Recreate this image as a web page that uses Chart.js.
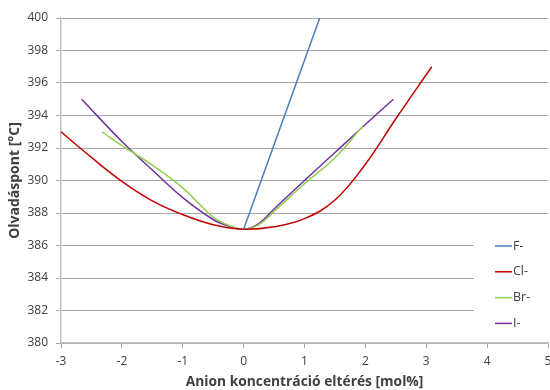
<!DOCTYPE html>
<html>
<head>
<meta charset="utf-8">
<script src="https://cdn.jsdelivr.net/npm/chart.js@4.4.1/dist/chart.umd.min.js"></script>
<style>
  html, body { margin: 0; padding: 0; background: #fff; }
  #wrap { width: 550px; height: 390px; }
</style>
</head>
<body>
<div id="wrap"><canvas id="chart"></canvas></div>
<script>
// anion concentration deviation [mol%] and melting point [°C]
const xF = [0, 0.5, 1, 1.5];
const yF = [387, 392.2, 397.4, 402.6];

const xCl = [-3, -2.5, -2, -1.5, -1, -0.5, 0, 0.5, 1, 1.5, 2, 2.5, 3.09];
const yCl = [393, 391.42, 389.95, 388.75, 387.9, 387.28, 387, 387.15, 387.65, 388.8, 391.0, 393.8, 397];

const xBr = [-2.33, -2, -1.5, -1, -0.5, -0.25, 0, 0.25, 0.5, 1, 1.5, 1.96];
const yBr = [393, 392.15, 390.95, 389.55, 387.75, 387.25, 387, 387.28, 388.1, 389.8, 391.4, 393.35];

const xI = [-2.66, -2, -1.5, -1, -0.5, -0.25, 0, 0.25, 0.5, 1, 1.5, 2, 2.46];
const yI = [395, 392.4, 390.65, 388.95, 387.6, 387.2, 387, 387.35, 388.25, 390.0, 391.72, 393.45, 395];

const seriesNames = ['F-', 'Cl-', 'Br-', 'I-'];
const seriesColors = ['#4a7ebb', '#c00000', '#92d050', '#7030a0'];

function toPoints(xs, ys) {
  return xs.map((x, i) => ({ x: x, y: ys[i] }));
}

Chart.defaults.font.family = "'Open Sans', sans-serif";
Chart.defaults.font.size = 12;
Chart.defaults.color = '#404040';

// legend sits inside the plot area on a white box, like the original
const boxLegend = {
  id: 'boxLegend',
  afterDatasetsDraw(chart) {
    const ctx = chart.ctx;
    ctx.save();
    ctx.fillStyle = '#ffffff';
    ctx.fillRect(474, 224, 76, 114);
    ctx.font = "12.5px 'Open Sans', sans-serif";
    ctx.textBaseline = 'middle';
    ctx.fillStyle = '#404040';
    chart.data.datasets.forEach((ds, i) => {
      const y = 246 + i * 25.8;
      ctx.strokeStyle = ds.borderColor;
      ctx.lineWidth = 1.5;
      ctx.beginPath();
      ctx.moveTo(495, y);
      ctx.lineTo(512, y);
      ctx.stroke();
      ctx.fillText(ds.label, 513, y);
    });
    ctx.restore();
  }
};

const ctx = document.getElementById('chart').getContext('2d');
new Chart(ctx, {
  type: 'scatter',
  data: {
    datasets: [
      { label: seriesNames[0], data: toPoints(xF, yF), borderColor: seriesColors[0], tension: 0 },
      { label: seriesNames[1], data: toPoints(xCl, yCl), borderColor: seriesColors[1], tension: 0.4 },
      { label: seriesNames[2], data: toPoints(xBr, yBr), borderColor: seriesColors[2], tension: 0.4 },
      { label: seriesNames[3], data: toPoints(xI, yI), borderColor: seriesColors[3], tension: 0.4 }
    ].map(ds => Object.assign(ds, {
      showLine: true,
      borderWidth: 1.5,
      pointRadius: 0,
      pointHoverRadius: 0,
      fill: false,
      clip: 0
    }))
  },
  options: {
    responsive: true,
    maintainAspectRatio: false,
    animation: false,
    layout: { padding: { top: 18, right: 2, left: 0, bottom: 0 } },
    plugins: {
      legend: { display: false },
      tooltip: { enabled: false }
    },
    scales: {
      x: {
        type: 'linear',
        min: -3,
        max: 5,
        ticks: { stepSize: 1, padding: 6, maxRotation: 0 },
        grid: { drawOnChartArea: false, drawTicks: true, tickLength: 5, tickColor: '#a6a6a6' },
        border: { color: '#bfbfbf', width: 1.5 },
        title: {
          display: true,
          text: 'Anion koncentráció eltérés [mol%]',
          font: { size: 13.8, weight: 'bold' },
          padding: { top: 0, bottom: 0 }
        },
        afterFit(scale) {
          scale.height = 47;
          scale.paddingLeft = 0;
          scale.paddingRight = 0;
        }
      },
      y: {
        min: 380,
        max: 400,
        ticks: { stepSize: 2, padding: 8 },
        grid: { color: '#a6a6a6', lineWidth: 1, tickLength: 5, tickColor: '#a6a6a6' },
        border: { color: '#bfbfbf', width: 1.5 },
        title: {
          display: true,
          text: 'Olvadáspont [°C]',
          font: { size: 14, weight: 'bold' },
          padding: { top: 7, bottom: 0 }
        },
        afterFit(scale) {
          scale.width = 61;
          scale.paddingTop = 0;
          scale.paddingBottom = 0;
        }
      }
    }
  },
  plugins: [boxLegend]
});
</script>
</body>
</html>
